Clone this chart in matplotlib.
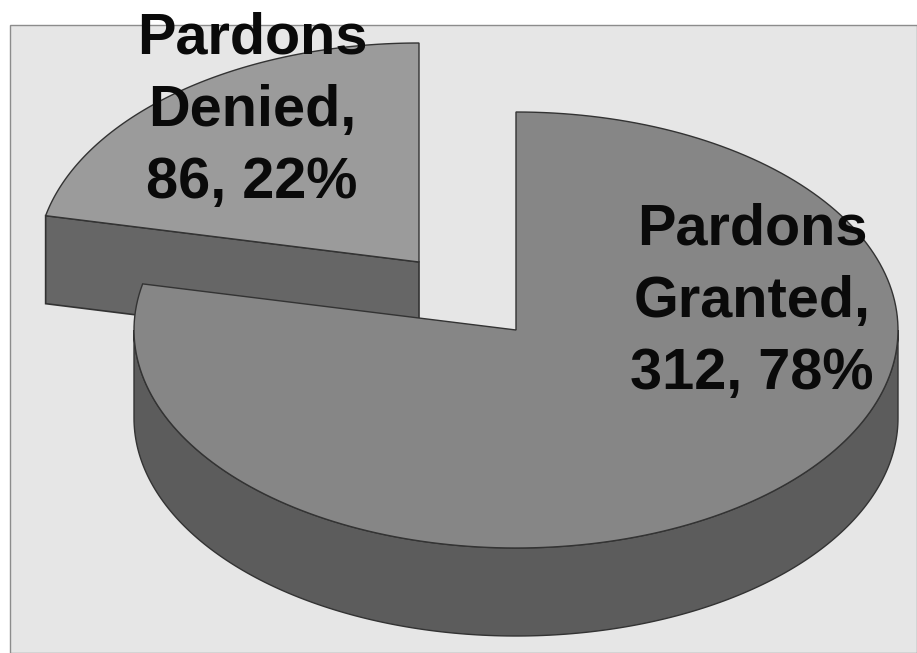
import numpy as np
import matplotlib
matplotlib.use('Agg')
import matplotlib.pyplot as plt
from matplotlib.patches import Polygon, Rectangle

labels = ['Pardons\nGranted,', 'Pardons\nDenied,']
values = [312, 86]
percents = [78, 22]


def arc(cx, cy, rx, ry, start, stop, n=200):
    """Points on the ellipse, angles clockwise from 12 o'clock in degrees."""
    t = np.radians(np.linspace(start, stop, n))
    return np.column_stack([cx + rx * np.sin(t), cy - ry * np.cos(t)])


def draw_slice(ax, cx, cy, rx, ry, depth, start, stop, top_color, side_color, z):
    edge = '#333333'
    # front face along the cut, only seen when the slice ends on the left
    if stop >= 360:
        a = arc(cx, cy, rx, ry, start, start, 1)[0]
        face = [(cx, cy), a, (a[0], a[1] + depth), (cx, cy + depth)]
        ax.add_patch(Polygon(face, fc=side_color, ec=edge, lw=1.2, zorder=z))
    # outer wall, lower half of the ellipse only
    lo, hi = max(start, 90), min(stop, 270)
    if hi > lo:
        rim = arc(cx, cy, rx, ry, lo, hi)
        wall = np.vstack([rim, (rim + [0, depth])[::-1]])
        ax.add_patch(Polygon(wall, fc=side_color, ec=edge, lw=1.0, zorder=z))
    pts = np.vstack([[(cx, cy)], arc(cx, cy, rx, ry, start, stop)])
    ax.add_patch(Polygon(pts, fc=top_color, ec=edge, lw=1.0, zorder=z + 1))


fig = plt.figure(figsize=(9.17, 6.53), dpi=100)
ax = fig.add_axes([0, 0, 1, 1])
ax.set_xlim(0, 917)
ax.set_ylim(653, 0)
ax.axis('off')

ax.add_patch(Rectangle((10, 25), 907, 628, fc='#e6e6e6', ec='#8c8c8c', lw=1.0, zorder=0))

total = sum(values)
split = 360 * values[0] / total

# denied slice sits behind and is pulled out to the upper left
draw_slice(ax, 419, 262, 382, 219, 88, split, 360, '#9b9b9b', '#666666', 1)
# granted slice
draw_slice(ax, 516, 330, 382, 218, 88, 0, split, '#868686', '#5c5c5c', 3)

font = dict(family='Liberation Sans', fontweight='bold', fontsize=41.5, color='#0a0a0a',
            ha='center', va='baseline', multialignment='center', linespacing=1.43, zorder=10)
ax.text(752, 389, f'{labels[0]}\n{values[0]}, {percents[0]}%', **font)
ax.text(252, 198, f'{labels[1]}\n{values[1]}, {percents[1]}%', **font)

fig.savefig('out.png', dpi=100, facecolor='white')
